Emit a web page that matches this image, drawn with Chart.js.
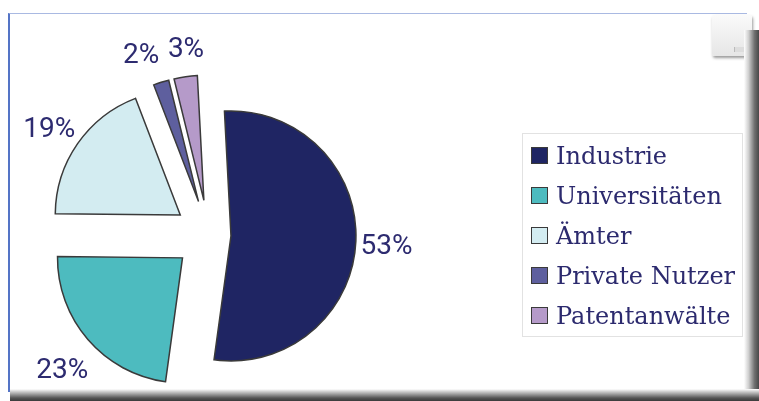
<!DOCTYPE html>
<html lang="de">
<head>
<meta charset="UTF-8">
<title>Nutzer</title>
<style>
    body {
        margin: 0;
        width: 759px;
        height: 401px;
        overflow: hidden;
        background: #fff;
        position: relative;
    }
    .frame {
        position: absolute;
        left: 8px;
        top: 13px;
        width: 737px;
        height: 378px;
        border-top: 1px solid #a9b9e2;
        border-left: 2px solid #5474c6;
    }
    .shadow-bottom {
        position: absolute;
        left: 10px;
        top: 389px;
        width: 749px;
        height: 12px;
        background: linear-gradient(to bottom, #fff, #b0b0b0 35%, #555 75%, #3a3a3a);
    }
    .shadow-right {
        position: absolute;
        left: 744px;
        top: 30px;
        width: 15px;
        height: 371px;
        background: linear-gradient(to right, #fff, #d0d0d0 30%, #707070 70%, #484848);
    }
    .widget {
        position: absolute;
        left: 712px;
        top: 15px;
        width: 40px;
        height: 41px;
        background: linear-gradient(#fafafa, #e6e6e6);
        box-shadow: 1px 2px 3px #999;
        border-radius: 2px;
    }
    .widget span {
        position: absolute;
        left: 22px;
        top: 32px;
        width: 12px;
        height: 5px;
        border-left: 1px solid #bbb;
        background: #ddd;
    }
    .chart-box {
        position: absolute;
        left: 0;
        top: 0;
        width: 759px;
        height: 401px;
    }
    #legend {
        position: absolute;
        left: 522px;
        top: 133px;
        width: 219px;
        height: 200px;
        border: 1px solid #e2e2e2;
        padding-top: 2px;
        font-family: 'DejaVu Serif', serif;
        font-size: 24px;
        color: #2c2a6e;
    }
    #legend div {
        height: 40px;
        line-height: 40px;
        white-space: nowrap;
        position: relative;
        padding-left: 33px;
    }
    #legend i {
        position: absolute;
        left: 8px;
        top: 11px;
        width: 15px;
        height: 15px;
        border: 1.5px solid #3a3a3a;
    }
</style>
</head>
<body>
    <div class="frame"></div>
    <div class="widget"><span></span></div>
    <div class="chart-box">
        <canvas id="myChart"></canvas>
    </div>
    <div id="legend"></div>
    <div class="shadow-right"></div>
    <div class="shadow-bottom"></div>

    <script src="https://cdn.jsdelivr.net/npm/chart.js"></script>
    <script>
        // Anteile in Prozent
        var categories = ['Industrie', 'Universitäten', 'Ämter', 'Private Nutzer', 'Patentanwälte'];
        var shares = [53, 23, 19, 2, 3];

        var colors = ['#1f2563', '#4dbbbf', '#d3ecf1', '#5e5f9e', '#b59ac9'];
        var explode = [22, 35, 35, 35, 35];      // px, how far each slice is pulled out
        var labelGap = [31, 40, 31, 31, 26];     // px beyond the rim
        var labelTurn = [1.4, -2, -1.5, -3.4, 1.3]; // deg, small nudge so labels don't collide

        // exploded slices: draw each arc shifted along its mid angle
        var explodePlugin = {
            id: 'explode',
            beforeDatasetDraw: function(chart, args) {
                var ctx = chart.ctx;
                args.meta.data.forEach(function(arc, i) {
                    var mid = (arc.startAngle + arc.endAngle) / 2;
                    ctx.save();
                    ctx.translate(Math.cos(mid) * explode[i], Math.sin(mid) * explode[i]);
                    arc.draw(ctx);
                    ctx.restore();
                });
                return false;
            },
            afterDatasetsDraw: function(chart) {
                var ctx = chart.ctx;
                var meta = chart.getDatasetMeta(0);
                ctx.save();
                ctx.font = '28px Roboto, "DejaVu Sans Condensed", sans-serif';
                ctx.fillStyle = '#2d2b70';
                ctx.textAlign = 'center';
                ctx.textBaseline = 'middle';
                meta.data.forEach(function(arc, i) {
                    var mid = (arc.startAngle + arc.endAngle) / 2 + labelTurn[i] * Math.PI / 180;
                    var d = explode[i] + arc.outerRadius + labelGap[i];
                    ctx.fillText(shares[i] + '%', arc.x + Math.cos(mid) * d, arc.y + Math.sin(mid) * d);
                });
                ctx.restore();
            }
        };

        new Chart(document.getElementById('myChart'), {
            type: 'pie',
            data: {
                labels: categories,
                datasets: [{
                    data: shares,
                    backgroundColor: colors,
                    borderColor: '#3a3a3a',
                    borderWidth: 1.5,
                    borderJoinStyle: 'miter',
                    borderAlign: 'center',
                    clip: false
                }]
            },
            options: {
                responsive: true,
                maintainAspectRatio: false,
                animation: false,
                events: [],
                rotation: -3,
                radius: 125,
                layout: { padding: { left: 0, right: 341, top: 69, bottom: 0 } },
                plugins: {
                    legend: { display: false },
                    tooltip: { enabled: false }
                }
            },
            plugins: [explodePlugin]
        });

        var legend = document.getElementById('legend');
        categories.forEach(function(name, i) {
            var row = document.createElement('div');
            var box = document.createElement('i');
            box.style.background = colors[i];
            row.appendChild(box);
            row.appendChild(document.createTextNode(name));
            legend.appendChild(row);
        });
    </script>
</body>
</html>
